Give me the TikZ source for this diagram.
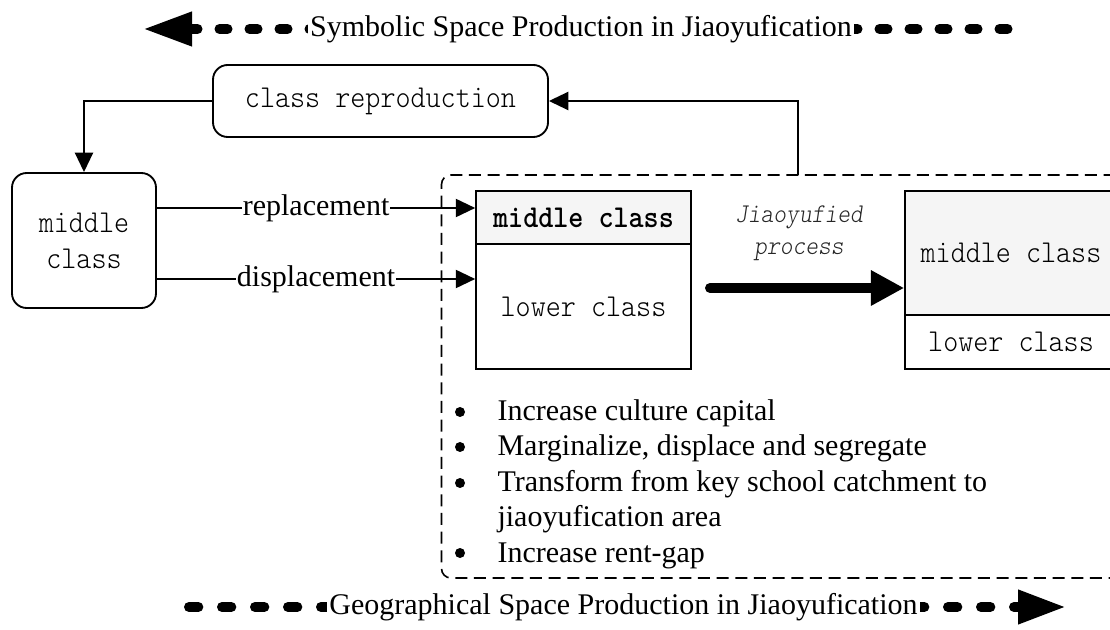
\documentclass[tikz,border=0pt]{standalone}
\usepackage{fontspec}
\setmainfont{Liberation Serif}
\newfontfamily\monolt{lmmonolt10}[Extension=.otf, UprightFont=*-regular, BoldFont=*-bold, ItalicFont=*-oblique, BoldItalicFont=*-boldoblique, FakeStretch=0.9]
\usetikzlibrary{arrows.meta,calc}
\begin{document}
\begin{tikzpicture}[x=0.75pt,y=-0.75pt,
  serif/.style={font=\fontsize{22.5}{27}\selectfont},
  mono/.style={font=\monolt\fontsize{23.9}{27}\selectfont},
  rbox/.style={draw, line width=1.4pt, rounded corners=11pt, inner sep=0pt, mono, align=center},
  sbox/.style={draw, line width=1.2pt, inner sep=0pt, mono, minimum width=161.25pt},
  lite/.style={fill=black!4},
  conn/.style={line width=1.5pt, -{Triangle[length=14.5pt,width=13.5pt]}},
  lab/.style={serif, fill=white, inner sep=0.6pt},
  dotline/.style={line width=7.5pt, line cap=round, dash pattern=on 6pt off 16.5pt},
  dotlineb/.style={line width=7.5pt, line cap=round, dash pattern=on 7pt off 17.75pt},
  bul/.style={serif, anchor=base west, inner sep=0pt},
  bdot/.style={circle, fill, inner sep=0pt, minimum size=7.5pt},
  region/.style={draw, line width=1.2pt, dash pattern=on 9pt off 5pt, rounded corners=7pt}
]
\useasboundingbox (0,0) rectangle (1110,630);
\fill[white] (0,0) rectangle (1110,630);
\clip (0,0) rectangle (1110,630);

% top and bottom dotted arrows
\coordinate (tl) at (143,29);
\coordinate (tr) at (1024,29);
\draw[dotline, {Triangle[length=36.75pt,width=24pt]}-] (tl) -- (tr);
\node[serif, fill=white, inner xsep=2pt, inner ysep=0pt] (ttop) at (581,29) {Symbolic Space Production in Jiaoyufication};

\coordinate (bl) at (189,607);
\coordinate (br) at (1066,607);
\draw[dotlineb, -{Triangle[length=36pt,width=24pt]}] (bl) -- (br);
\node[serif, fill=white, inner xsep=2pt, inner ysep=0pt] (tbot) at (623.5,607) {Geographical Space Production in Jiaoyufication};

% dashed region
\node[region, minimum width=512.6pt, minimum height=302.25pt] (reg) at (783.25,376.5) {};

% rounded boxes
\node[rbox, minimum width=251.25pt, minimum height=54pt] (crep) at (380.5,101) {class reproduction};
\node[rbox, minimum width=108pt, minimum height=101.25pt] (mc) at (84,240.5) {middle\\class};

% left stack
\node[sbox, lite, minimum height=39.75pt, font=\monolt\bfseries\fontsize{23.9}{27}\selectfont] (lm) at (583.5,217.5) {middle class};
\node[sbox, minimum height=93.75pt] (ll) at (583.5,306.5) {lower class};

% right stack
\node[sbox, lite, minimum width=159pt, minimum height=93pt] (rm) at (1011,253) {middle class};
\node[sbox, minimum width=159pt, minimum height=40.5pt] (rl) at (1011,342) {lower class};

% Jiaoyufied process
\node[font=\monolt\itshape\fontsize{20.3}{24}\selectfont, align=center, text=black!85] (jp) at (799,233) {Jiaoyufied\\process};
\coordinate (js) at (710,288);
\draw[line width=7.5pt, line cap=round, -{Triangle[length=25pt,width=25pt]}] (js) -- (rm.west |- js);

% connectors
\path (lm.west) ++(0,-9.5) coordinate (rt);
\path (ll.west) ++(0,-27.5) coordinate (dt);
\draw[conn] (mc.east |- rt) -- (rt) node[midway, lab] {replacement};
\draw[conn] (mc.east |- dt) -- (dt) node[midway, lab] {displacement};
\draw[conn] (crep.west) -| (mc.north);
\coordinate (upfoot) at (798,175);
\draw[conn] (upfoot) |- (crep.east);

% bullet list
\node[bul] (b1) at (497.25,421) {Increase culture capital};
\node[bul] (b2) at (497.25,456) {Marginalize, displace and segregate};
\node[bul] (b3) at (497.25,492) {Transform from key school catchment to};
\node[bul] (b4) at (497.25,527) {jiaoyufication area};
\node[bul] (b5) at (497.25,562) {Increase rent-gap};
\foreach \b/\y in {d1/412, d2/447, d3/483, d5/553}
  \node[bdot] (\b) at (460,\y) {};
\end{tikzpicture}
\end{document}
